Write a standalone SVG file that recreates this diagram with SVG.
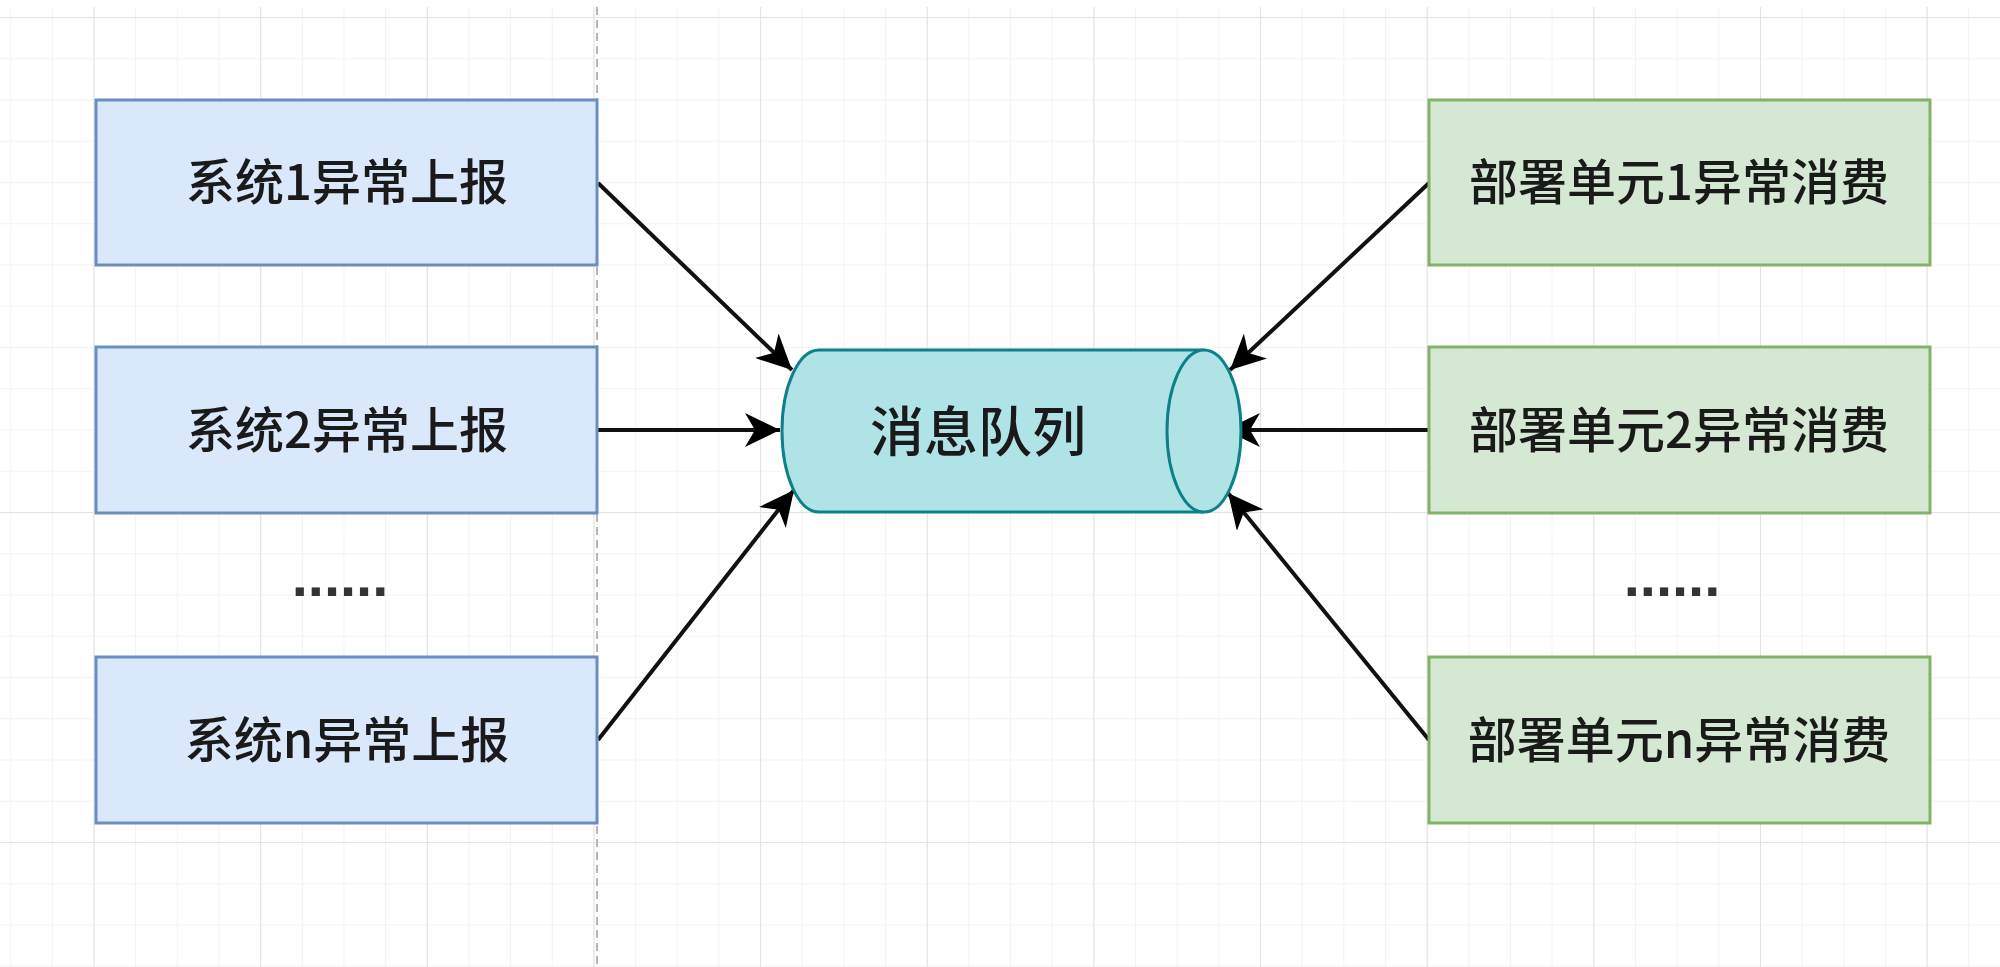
<svg xmlns="http://www.w3.org/2000/svg" width="2000" height="967" viewBox="0 0 2000 967">
  <style>
    .blue { fill: #dae8fc; stroke: #6c8ebf; stroke-width: 3; }
    .green { fill: #d5e8d4; stroke: #82b366; stroke-width: 3; }
    .cyl { fill: #b0e3e6; stroke: #0e8088; stroke-width: 3; }
    .lbl { font-family: "Noto Sans CJK SC", "Liberation Sans", sans-serif; font-size: 49px; font-weight: 500; fill: #1a1a1a; text-anchor: middle; }
    .big { font-size: 54px; }
    .dots { font-family: "Liberation Sans", sans-serif; font-size: 58px; font-weight: bold; fill: #333; text-anchor: middle; }
    .edge { stroke: #111; stroke-width: 4; fill: none; marker-end: url(#arrow); }
  </style>
  <defs>
    <pattern id="minor" patternUnits="userSpaceOnUse" x="93.5" y="17" width="41.66" height="41.25">
      <path d="M0,0 H41.66 M0,0 V41.25" stroke="#efefef" stroke-width="1.5" fill="none"/>
    </pattern>
    <pattern id="major" patternUnits="userSpaceOnUse" x="93.5" y="17" width="166.65" height="165">
      <path d="M0,0 H166.65 M0,0 V165" stroke="#e2e2e2" stroke-width="2" fill="none"/>
    </pattern>
    <marker id="arrow" markerUnits="userSpaceOnUse" viewBox="0 0 36 34" refX="35" refY="17" markerWidth="36" markerHeight="34" orient="auto">
      <path d="M0,0 L35,17 L0,34 L10,17 Z" fill="#000"/>
    </marker>
  </defs>

  <rect x="0" y="0" width="2000" height="967" fill="#ffffff"/>
  <g id="grid">
    <rect x="0" y="7" width="2000" height="960" fill="url(#minor)"/>
    <rect x="0" y="7" width="2000" height="960" fill="url(#major)"/>
    <line x1="597" y1="7" x2="597" y2="967" stroke="#b5b5b5" stroke-width="2" stroke-dasharray="8 5"/>
  </g>

  <g id="connectors">
    <line class="edge" x1="598" y1="183" x2="792" y2="370"/>
    <line class="edge" x1="598" y1="430" x2="780" y2="430"/>
    <line class="edge" x1="598" y1="740" x2="794" y2="490"/>
    <line class="edge" x1="1429" y1="183" x2="1230" y2="370"/>
    <line class="edge" x1="1429" y1="430" x2="1225" y2="430"/>
    <line class="edge" x1="1429" y1="740" x2="1228" y2="493"/>
  </g>

  <g id="sys1">
    <rect class="blue" x="96" y="100" width="501" height="165"/>
    <text class="lbl" x="347" y="200">系统1异常上报</text>
  </g>
  <g id="sys2">
    <rect class="blue" x="96" y="347" width="501" height="166"/>
    <text class="lbl" x="347" y="448">系统2异常上报</text>
  </g>
  <g id="sysdots">
    <text class="dots" x="340" y="596">......</text>
  </g>
  <g id="sysn">
    <rect class="blue" x="96" y="657" width="501" height="166"/>
    <text class="lbl" x="347" y="758">系统n异常上报</text>
  </g>

  <g id="queue">
    <path class="cyl" d="M819,350 H1204 A37,81 0 0 1 1204,512 H819 A37,81 0 0 1 819,350 Z"/>
    <path class="cyl" d="M1204,350 A37,81 0 0 0 1204,512" fill="none"/>
    <text class="lbl big" x="978" y="452">消息队列</text>
  </g>

  <g id="unit1">
    <rect class="green" x="1429" y="100" width="501" height="165"/>
    <text class="lbl" x="1679" y="200">部署单元1异常消费</text>
  </g>
  <g id="unit2">
    <rect class="green" x="1429" y="347" width="501" height="166"/>
    <text class="lbl" x="1679" y="448">部署单元2异常消费</text>
  </g>
  <g id="unitdots">
    <text class="dots" x="1672" y="596">......</text>
  </g>
  <g id="unitn">
    <rect class="green" x="1429" y="657" width="501" height="166"/>
    <text class="lbl" x="1679" y="758">部署单元n异常消费</text>
  </g>
</svg>
